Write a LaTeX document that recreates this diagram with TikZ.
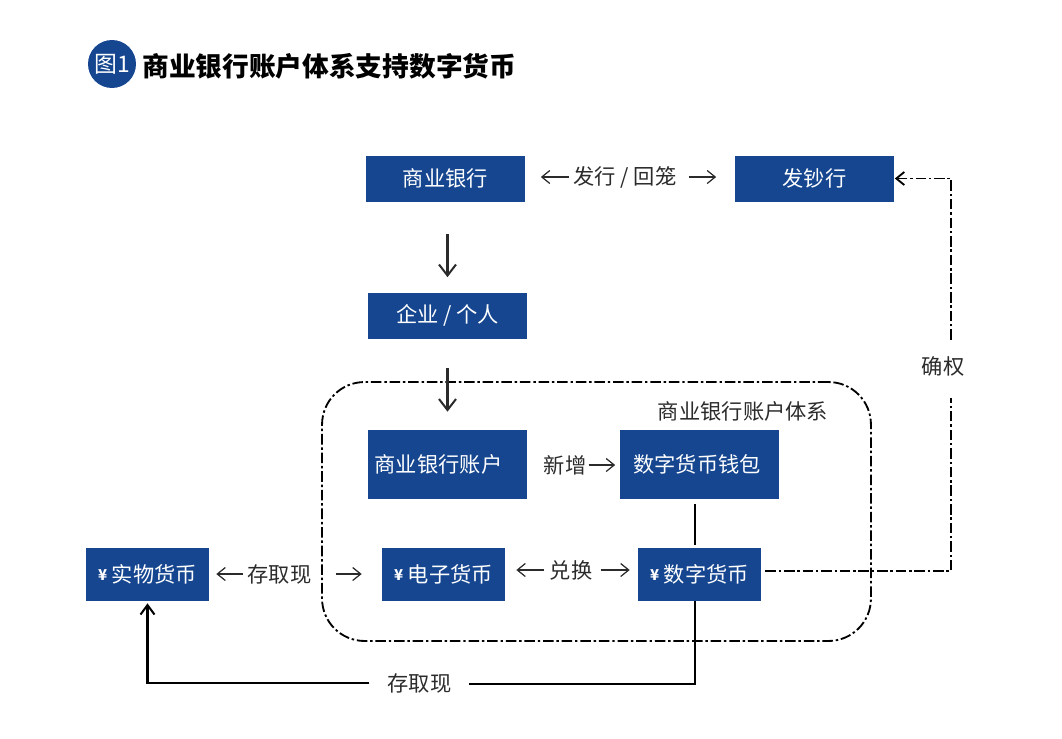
\documentclass[tikz,border=0pt]{standalone}
\usepackage{fontspec}
\setmainfont{Noto Sans CJK SC}
\usepackage{tikz}
\usetikzlibrary{arrows,arrows.meta}

\definecolor{bankblue}{HTML}{15468F}
\definecolor{inkgray}{HTML}{2B2B2B}

\newcommand{\yensign}{{\bfseries\fontsize{8.5pt}{10pt}\selectfont\raisebox{1pt}{¥}}}

\begin{document}
\begin{tikzpicture}[
  x=0.02cm, y=-0.02cm,
  bluebox/.style={fill=bankblue,text=white,inner sep=0pt,font=\fontsize{12.1pt}{14pt}\selectfont},
  widebox/.style={bluebox,minimum width=3.2cm,minimum height=0.92cm},
  tallbox/.style={bluebox,minimum width=3.2cm,minimum height=1.38cm},
  moneybox/.style={bluebox,minimum width=2.46cm,minimum height=1.06cm},
  flowlabel/.style={inner sep=0pt,text=inkgray,font=\fontsize{12.1pt}{14pt}\selectfont},
  bigarrow/.style={-{Straight Barb[length=2.2mm,width=3.4mm]},line width=1.15pt,inkgray},
  smallarrow/.style={-{Straight Barb[length=1.6mm,width=2.6mm]},line width=0.7pt,inkgray},
  dashdot/.style={line width=1.05pt,dash pattern=on 6pt off 1.6pt on 1.4pt off 1.6pt}
]
  \useasboundingbox (0,0) rectangle (1062,738);

  % title
  \node[circle,fill=bankblue,text=white,minimum size=0.96cm,inner sep=0pt,font=\fontsize{13pt}{15pt}\selectfont] (badge) at (112,64) {图1};
  \node[inner sep=0pt,font=\bfseries\fontsize{15.2pt}{17pt}\selectfont,anchor=west] (title) at (142,66) {商业银行账户体系支持数字货币};

  % account system frame
  \node[draw,dashdot,rounded corners=0.85cm,minimum width=10.98cm,minimum height=5.18cm,inner sep=0pt] (system) at (596.5,511.5) {};
  \node[flowlabel] (systemname) at (743,411) {商业银行账户体系};

  % top row
  \node[widebox] (bank) at (445.5,178.5) {商业银行};
  \node[widebox] (issuer) at (814.5,178.5) {发钞行};
  \node[flowlabel] (issue) at (625,177) {发行 / 回笼};

  % middle column
  \node[widebox] (firm) at (447.5,315.5) {企业 / 个人};
  \node[tallbox] (account) at (447.5,464.5) {商业银行账户\hspace*{0.36cm}};
  \node[tallbox] (wallet) at (699.5,464.5) {数字货币钱包\hspace*{0.1cm}};
  \node[flowlabel] (added) at (565,465) {新增};

  % money row
  \node[moneybox] (cash) at (147.5,574.5) {\yensign\ 实物货币};
  \node[moneybox] (emoney) at (443.5,574.5) {\yensign\ 电子货币};
  \node[moneybox] (digital) at (699.5,574.5) {\yensign\ 数字货币};
  \node[flowlabel] (deposit) at (279.5,574) {存取现};
  \node[flowlabel] (exchange) at (571,570) {兑换};

  % free labels on the long lines
  \node[flowlabel] (confirm) at (943,366) {确权};
  \node[flowlabel] (withdraw) at (419.5,683) {存取现};

  % turning points
  \coordinate (walletdrop) at (695,499);
  \coordinate (bottomturn) at (695,684);
  \coordinate (rightturn) at (951,571);

  % vertical arrows
  \draw[bigarrow,shorten <=0.64cm,shorten >=0.3cm] (bank.south -| firm) -- (firm.north);
  \draw[bigarrow,shorten <=0.58cm,shorten >=0.36cm] (firm.south) -- (account.north);

  % label arrows
  \draw[smallarrow,shorten <=0.08cm,shorten >=0.3cm] (issue.west) -- (bank.east |- issue.west);
  \draw[smallarrow,shorten <=0.24cm,shorten >=0.36cm] (issue.east) -- (issuer.west |- issue.east);
  \draw[smallarrow,shorten <=0.04cm,shorten >=0.08cm] (added.east) -- (wallet.west |- added.east);
  \draw[smallarrow,shorten <=0.08cm,shorten >=0.14cm] (deposit.west) -- (cash.east |- deposit.west);
  \draw[smallarrow,shorten <=0.48cm,shorten >=0.4cm] (deposit.east) -- (emoney.west |- deposit.east);
  \draw[smallarrow,shorten <=0.1cm,shorten >=0.22cm] (exchange.west) -- (emoney.east |- exchange.west);
  \draw[smallarrow,shorten <=0.16cm,shorten >=0.16cm] (exchange.east) -- (digital.west |- exchange.east);

  % wallet to digital money
  \draw[line width=1.15pt,shorten <=0.1cm,shorten >=0.06cm] (walletdrop) -- (digital.north -| walletdrop);

  % digital money back to cash
  \draw[line width=1.15pt,shorten >=0.34cm] (digital.south -| bottomturn) -- (bottomturn) -- (withdraw.east |- bottomturn);
  \draw[-{Straight Barb[length=1.9mm,width=2.8mm]},line width=1.15pt,shorten <=0.36cm,shorten >=0.04cm] (withdraw.west) -| (cash.south);

  % digital money up to the issuer
  \draw[dashdot,shorten <=0.08cm,shorten >=0.44cm] (digital.east |- rightturn) -- (rightturn) -- (confirm.south -| rightturn);
  \draw[dashdot,-{Straight Barb[length=1.6mm,width=2.6mm]},shorten <=0.32cm] (confirm.north -| rightturn) |- (issuer.east);
\end{tikzpicture}
\end{document}
